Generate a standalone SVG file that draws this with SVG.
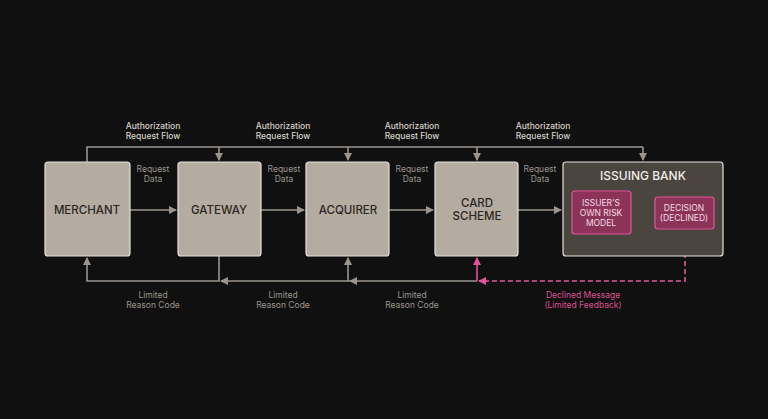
<svg xmlns="http://www.w3.org/2000/svg" width="768" height="419" viewBox="0 0 768 419">
<style>
text{font-family:Inter,"Liberation Sans",sans-serif;text-anchor:middle}
.box{fill:#b5aca1;stroke:#e6e1da;stroke-width:1.2}
.nl{font-size:11.5px;font-weight:500;fill:#2a2623}
.lb{font-size:8.5px;fill:#9a948d}
.lbt{font-size:8.5px;fill:#d5d0c9;font-weight:500}
.ln{fill:none;stroke:#9a948d;stroke-width:1.6}
.pk{fill:#8c3457;stroke:#e0559a;stroke-width:1.2}
.pt{font-size:8.5px;fill:#f3dce6}
</style>
<defs>
<marker id="a" markerWidth="8" markerHeight="8" refX="7" refY="4" orient="auto" markerUnits="userSpaceOnUse"><path d="M0,0L8,4L0,8z" fill="#9a948d"/></marker>
<marker id="p" markerWidth="8" markerHeight="8" refX="7" refY="4" orient="auto" markerUnits="userSpaceOnUse"><path d="M0,0L8,4L0,8z" fill="#e0559a"/></marker>
</defs>
<rect width="768" height="419" fill="#111010"/>
<g id="connectors">
<path class="ln" d="M87,162V147H643"/>
<path class="ln" d="M219,147V160" marker-end="url(#a)"/>
<path class="ln" d="M348,147V160" marker-end="url(#a)"/>
<path class="ln" d="M477,147V160" marker-end="url(#a)"/>
<path class="ln" d="M643,147V160" marker-end="url(#a)"/>
<path class="ln" d="M130,210H176" marker-end="url(#a)"/>
<path class="ln" d="M261,210H304" marker-end="url(#a)"/>
<path class="ln" d="M389,210H433" marker-end="url(#a)"/>
<path class="ln" d="M518,210H561" marker-end="url(#a)"/>
<path class="ln" d="M219,256V281H87V258" marker-end="url(#a)"/>
<path class="ln" d="M477,281H350" marker-end="url(#a)"/>
<path class="ln" d="M350,281H221" marker-end="url(#a)"/>
<path class="ln" d="M348,281V258" marker-end="url(#a)"/>
<path d="M477,281V258" fill="none" stroke="#e0559a" stroke-width="1.6" marker-end="url(#p)"/>
<path d="M685,229V281H479" fill="none" stroke="#e0559a" stroke-width="1.6" stroke-dasharray="5,3" marker-end="url(#p)"/>
<path d="M631,213H653" fill="none" stroke="#e0559a" stroke-width="1.6" marker-end="url(#p)"/>
<text class="lbt" x="153" y="129">Authorization</text><text class="lbt" x="153" y="139">Request Flow</text>
<text class="lbt" x="283" y="129">Authorization</text><text class="lbt" x="283" y="139">Request Flow</text>
<text class="lbt" x="412" y="129">Authorization</text><text class="lbt" x="412" y="139">Request Flow</text>
<text class="lbt" x="543" y="129">Authorization</text><text class="lbt" x="543" y="139">Request Flow</text>
<text class="lb" x="153" y="172">Request</text><text class="lb" x="153" y="182">Data</text>
<text class="lb" x="284" y="172">Request</text><text class="lb" x="284" y="182">Data</text>
<text class="lb" x="412" y="172">Request</text><text class="lb" x="412" y="182">Data</text>
<text class="lb" x="540" y="172">Request</text><text class="lb" x="540" y="182">Data</text>
<text class="lb" x="153" y="298">Limited</text><text class="lb" x="153" y="308">Reason Code</text>
<text class="lb" x="283" y="298">Limited</text><text class="lb" x="283" y="308">Reason Code</text>
<text class="lb" x="412" y="298">Limited</text><text class="lb" x="412" y="308">Reason Code</text>
<text x="583" y="298" font-size="8.5" fill="#d9508f">Declined Message</text><text x="583" y="308" font-size="8.5" fill="#d9508f">(Limited Feedback)</text>
</g>
<g id="merchant"><rect class="box" x="45" y="162" width="85" height="94" rx="3"/><text class="nl" x="87" y="214">MERCHANT</text></g>
<g id="gateway"><rect class="box" x="178" y="162" width="83" height="94" rx="3"/><text class="nl" x="219" y="214">GATEWAY</text></g>
<g id="acquirer"><rect class="box" x="306" y="162" width="83" height="94" rx="3"/><text class="nl" x="348" y="214">ACQUIRER</text></g>
<g id="card-scheme"><rect class="box" x="435" y="162" width="83" height="94" rx="3"/><text class="nl" x="477" y="207">CARD</text><text class="nl" x="477" y="220">SCHEME</text></g>
<g id="issuing-bank"><rect x="563" y="162" width="160" height="94" rx="3" fill="#4b4540" stroke="#e6e1da" stroke-width="1.2"/><text x="643" y="180" font-size="12" fill="#f0ece6" font-weight="500">ISSUING BANK</text></g>
<g id="risk-model"><rect class="pk" x="572" y="191" width="59" height="43" rx="3"/><text class="pt" x="601" y="206">ISSUER'S</text><text class="pt" x="601" y="216">OWN RISK</text><text class="pt" x="601" y="226">MODEL</text></g>
<g id="decision"><rect class="pk" x="655" y="197" width="59" height="32" rx="3"/><text class="pt" x="684" y="211">DECISION</text><text class="pt" x="684" y="221">(DECLINED)</text></g>
</svg>
